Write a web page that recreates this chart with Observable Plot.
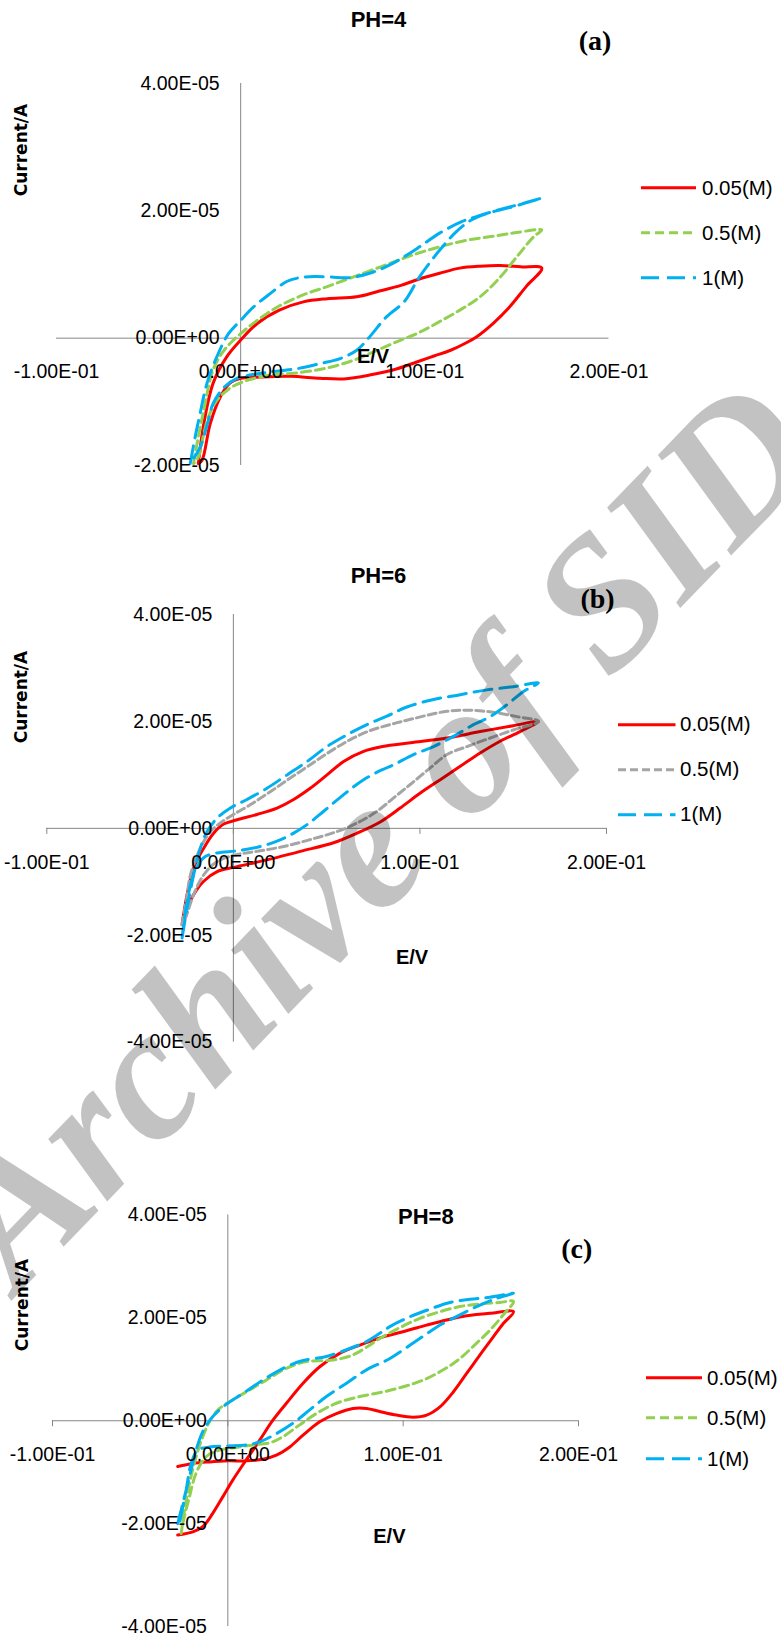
<!DOCTYPE html>
<html><head><meta charset="utf-8">
<script src="https://cdn.jsdelivr.net/npm/d3@7"></script>
<script src="https://cdn.jsdelivr.net/npm/@observablehq/plot@0.6"></script>
<style>
html,body{margin:0;padding:0;background:#fff;}
#page{position:relative;width:781px;height:1639px;overflow:hidden;background:#fff;}
.panel{position:absolute;left:0;}
.lbl{position:absolute;transform:translate(-50%,-50%);white-space:nowrap;line-height:1;color:#000;}
.title{font:bold 22px "Liberation Sans",Arial,sans-serif;}
.letter{font:bold 28px "Liberation Serif","Times New Roman",serif;}
.axt{font:bold 20px "Liberation Sans",Arial,sans-serif;}
.ylab{font:bold 17px "DejaVu Sans",Verdana,sans-serif;transform:translate(-50%,-50%) rotate(-90deg);}
.leg{position:absolute;display:flex;align-items:center;font:20.5px "Liberation Sans",Arial,sans-serif;line-height:1;transform:translateY(-50%);white-space:nowrap;}
.leg svg{display:block;overflow:visible;}
#wm{position:absolute;left:0;top:0;pointer-events:none;}
</style></head>
<body><div id="page"></div>
<script>
// ---- data (E in V, current in units of 1E-05 A) ----
const UNIT = 1e-5;
const xTicks = [-0.1, 0, 0.1, 0.2];
const yTicksA = [-2, 0, 2, 4];
const yTicksBC = [-4, -2, 0, 2, 4];
const concLabels = ["0.05(M)", "0.5(M)", "1(M)"];
const panelTitles = ["PH=4", "PH=6", "PH=8"];
const panelLetters = ["(a)", "(b)", "(c)"];
const axisTitleX = "E/V";
const axisTitleY = "Current/A";
const watermarkText = "Archive of SID";

const pH4_005 = [[-0.023,-1.97],[-0.020,-1.34],[-0.015,-0.71],[-0.0075,-0.29],[0.000,-0.03],[0.009,0.23],[0.021,0.44],[0.034,0.57],[0.047,0.62],[0.063,0.65],[0.074,0.73],[0.087,0.83],[0.097,0.93],[0.108,1.02],[0.119,1.10],[0.130,1.13],[0.141,1.14],[0.152,1.12],[0.1635,1.10],
[0.155,0.81],[0.146,0.49],[0.137,0.23],[0.128,0.02],[0.122,-0.08],[0.114,-0.19],[0.105,-0.28],[0.096,-0.37],[0.085,-0.48],[0.070,-0.58],[0.056,-0.64],[0.043,-0.63],[0.027,-0.60],[0.011,-0.61],[0.000,-0.63],[-0.006,-0.71],[-0.011,-0.92],[-0.0165,-1.34],[-0.021,-1.92],[-0.023,-1.97]];
const pH4_05 = [[-0.0256,-1.97],[-0.023,-1.55],[-0.020,-1.13],[-0.015,-0.50],[-0.009,-0.19],[0.000,0.07],[0.009,0.28],[0.020,0.49],[0.034,0.68],[0.047,0.81],[0.061,0.96],[0.076,1.12],[0.089,1.26],[0.098,1.35],[0.110,1.45],[0.123,1.54],[0.137,1.60],[0.150,1.66],[0.1635,1.70],
[0.159,1.59],[0.150,1.28],[0.141,0.96],[0.130,0.65],[0.119,0.44],[0.108,0.26],[0.097,0.09],[0.087,-0.03],[0.074,-0.19],[0.061,-0.35],[0.045,-0.48],[0.029,-0.55],[0.016,-0.58],[0.005,-0.65],[0.000,-0.70],[-0.006,-0.79],[-0.013,-0.98],[-0.0175,-1.24],[-0.020,-1.50],[-0.023,-1.87],[-0.0256,-1.97]];
const pH4_1 = [[-0.0274,-1.97],[-0.0247,-1.55],[-0.022,-1.18],[-0.0183,-0.71],[-0.0129,-0.29],[-0.0066,0.07],[0.000,0.28],[0.007,0.49],[0.016,0.70],[0.025,0.89],[0.032,0.95],[0.040,0.97],[0.049,0.96],[0.059,0.95],[0.070,1.02],[0.081,1.15],[0.090,1.30],[0.0974,1.44],[0.108,1.65],[0.120,1.83],[0.128,1.91],[0.137,1.99],[0.146,2.06],[0.155,2.13],[0.1635,2.20],
[0.146,2.05],[0.134,1.96],[0.1255,1.86],[0.117,1.67],[0.108,1.38],[0.097,0.96],[0.089,0.58],[0.079,0.33],[0.070,0.02],[0.063,-0.19],[0.054,-0.32],[0.043,-0.40],[0.0305,-0.48],[0.016,-0.53],[0.005,-0.58],[-0.002,-0.63],[-0.009,-0.77],[-0.015,-1.03],[-0.018,-1.34],[-0.022,-1.71],[-0.0274,-1.97]];

const pH6_005 = [[-0.0275,-1.80],[-0.0248,-1.24],[-0.0213,-0.74],[-0.0159,-0.37],[-0.0106,-0.09],[-0.0052,0.08],[0.002,0.16],[0.0127,0.26],[0.0234,0.38],[0.0323,0.54],[0.0412,0.75],[0.0502,1.00],[0.0591,1.25],[0.0698,1.44],[0.080,1.53],[0.095,1.60],[0.1145,1.69],[0.1323,1.81],[0.150,1.92],[0.1635,2.00],
[0.1537,1.81],[0.143,1.63],[0.1323,1.41],[0.1216,1.16],[0.1109,0.91],[0.1002,0.66],[0.0894,0.38],[0.0787,0.12],[0.0663,-0.09],[0.0537,-0.27],[0.0359,-0.43],[0.018,-0.59],[0.000,-0.73],[-0.0087,-0.81],[-0.0159,-0.99],[-0.0213,-1.24],[-0.0248,-1.49],[-0.0275,-1.80]];
const pH6_05 = [[-0.0275,-1.80],[-0.025,-1.30],[-0.023,-0.87],[-0.0177,-0.37],[-0.0123,-0.06],[-0.007,0.10],[0.000,0.26],[0.009,0.44],[0.020,0.69],[0.0305,0.94],[0.0412,1.19],[0.052,1.44],[0.0627,1.66],[0.0734,1.83],[0.084,1.94],[0.095,2.04],[0.1145,2.19],[0.127,2.21],[0.1394,2.17],[0.152,2.09],[0.1635,2.00],
[0.150,1.84],[0.1377,1.69],[0.1252,1.53],[0.1145,1.38],[0.1055,1.13],[0.0948,0.82],[0.0859,0.57],[0.077,0.32],[0.0663,0.10],[0.0555,-0.06],[0.0412,-0.21],[0.0269,-0.34],[0.0127,-0.43],[0.002,-0.49],[-0.0087,-0.62],[-0.0159,-0.87],[-0.0213,-1.24],[-0.0257,-1.68],[-0.0275,-1.80]];
const pH6_1 = [[-0.0275,-2.05],[-0.0248,-1.49],[-0.0213,-0.87],[-0.0177,-0.37],[-0.0141,-0.06],[-0.0087,0.19],[-0.0016,0.38],[0.0073,0.54],[0.018,0.75],[0.0288,1.00],[0.0395,1.25],[0.0502,1.53],[0.0609,1.75],[0.0716,1.94],[0.0823,2.10],[0.093,2.27],[0.1073,2.41],[0.1216,2.50],[0.1359,2.59],[0.150,2.65],[0.1635,2.72],
[0.1555,2.56],[0.1466,2.31],[0.1377,2.09],[0.1287,1.94],[0.118,1.72],[0.1073,1.53],[0.0966,1.38],[0.0859,1.19],[0.080,1.10],[0.0698,0.91],[0.0591,0.63],[0.0484,0.32],[0.0395,0.07],[0.0323,-0.09],[0.0234,-0.24],[0.0145,-0.34],[0.002,-0.42],[-0.0087,-0.46],[-0.0159,-0.55],[-0.0213,-0.87],[-0.0248,-1.36],[-0.0275,-2.05]];

const pH8_005 = [[-0.0286,-0.89],[-0.020,-0.83],[-0.0105,-0.80],[0.000,-0.78],[0.0105,-0.78],[0.020,-0.75],[0.0277,-0.67],[0.0353,-0.51],[0.0429,-0.28],[0.0524,-0.02],[0.0619,0.14],[0.0714,0.24],[0.0791,0.24],[0.0867,0.18],[0.0962,0.11],[0.1057,0.07],[0.1134,0.11],[0.121,0.27],[0.1286,0.56],[0.1362,0.92],[0.1438,1.28],[0.1514,1.63],[0.1571,1.89],[0.1629,2.12],
[0.1495,2.09],[0.1362,2.04],[0.1248,1.96],[0.1134,1.86],[0.1019,1.75],[0.0886,1.63],[0.0753,1.47],[0.0638,1.31],[0.0524,1.05],[0.0429,0.73],[0.0334,0.34],[0.0257,0.01],[0.0181,-0.38],[0.0105,-0.76],[0.0029,-1.15],[-0.0029,-1.48],[-0.0086,-1.80],[-0.0143,-2.06],[-0.020,-2.16],[-0.0286,-2.22]];
const pH8_05 = [[-0.0266,-2.19],[-0.0247,-1.74],[-0.0219,-1.22],[-0.0181,-0.70],[-0.0143,-0.31],[-0.0105,-0.02],[-0.0057,0.21],[0.001,0.37],[0.0105,0.56],[0.0219,0.79],[0.0334,1.02],[0.0448,1.15],[0.060,1.18],[0.0714,1.28],[0.080,1.45],[0.0867,1.60],[0.0981,1.81],[0.1095,1.99],[0.121,2.12],[0.1324,2.22],[0.1438,2.27],[0.1552,2.30],[0.1629,2.32],
[0.1571,2.06],[0.1495,1.76],[0.1419,1.51],[0.1324,1.21],[0.1229,0.99],[0.1114,0.79],[0.100,0.66],[0.0886,0.56],[0.0753,0.47],[0.0619,0.34],[0.0505,0.14],[0.041,-0.08],[0.0314,-0.31],[0.0238,-0.43],[0.0143,-0.47],[0.0048,-0.52],[-0.0048,-0.57],[-0.0124,-0.70],[-0.0181,-1.02],[-0.0219,-1.48],[-0.0257,-2.00],[-0.0266,-2.19]];
const pH8_1 = [[-0.0286,-2.0],[-0.0257,-1.61],[-0.0219,-1.09],[-0.0181,-0.57],[-0.0143,-0.21],[-0.0086,0.08],[-0.0009,0.32],[0.0086,0.53],[0.020,0.79],[0.0334,1.05],[0.0429,1.17],[0.0562,1.25],[0.0677,1.38],[0.0791,1.54],[0.0867,1.70],[0.0924,1.83],[0.1038,2.02],[0.1152,2.17],[0.1267,2.30],[0.1381,2.36],[0.1495,2.40],[0.1629,2.48],
[0.1533,2.38],[0.1438,2.25],[0.1324,2.06],[0.121,1.86],[0.1152,1.73],[0.1048,1.49],[0.092,1.20],[0.0791,0.99],[0.0677,0.73],[0.0562,0.47],[0.0467,0.21],[0.0371,-0.05],[0.0277,-0.25],[0.0181,-0.41],[0.0105,-0.47],[-0.0009,-0.49],[-0.0105,-0.51],[-0.0171,-0.57],[-0.0209,-0.83],[-0.0238,-1.35],[-0.0276,-2.0]];

// ---- styles ----
const AXIS = "#868686";
const RED = {color: "#ff0000", dash: null};
const GREEN = {color: "#92d050", dash: "9,5"};
const GRAY = {color: "#a5a5a5", dash: "8,4"};
const BLUE = {color: "#00b0f0", dash: "18,8"};

function fmt(v) {
  if (v === 0) return "0.00E+00";
  const e = Math.floor(Math.log10(Math.abs(v)) + 1e-9);
  const m = v / Math.pow(10, e);
  const s = e < 0 ? "-" : "+";
  return m.toFixed(2) + "E" + s + String(Math.abs(e)).padStart(2, "0");
}

const panels = [
  {top: 0, height: 500, mt: 83, mb: 35, ml: 56, mr: 172.5, yDomain: [-2, 4], yTicks: yTicksA, ticks: false,
   series: [{data: pH4_005, ...RED}, {data: pH4_05, ...GREEN}, {data: pH4_1, ...BLUE}],
   title: [378.5, 20], letter: [595, 41], ex: [373, 356], cy: [21, 150],
   leg: {x1: 641, x2: 696, tx: 702, rows: [188, 233, 278]}},
  {top: 540, height: 520, mt: 74, mb: 18.3, ml: 46.3, mr: 175, yDomain: [-4, 4], yTicks: yTicksBC, ticks: true,
   series: [{data: pH6_005, ...RED}, {data: pH6_05, ...GRAY}, {data: pH6_1, ...BLUE}],
   title: [378.5, 576], letter: [597.6, 599], ex: [412, 957], cy: [21, 697],
   leg: {x1: 617.5, x2: 675, tx: 680, rows: [724.3, 769.3, 814.3]}},
  {top: 1100, height: 539, mt: 114.5, mb: 13, ml: 52, mr: 203, yDomain: [-4, 4], yTicks: yTicksBC, ticks: true,
   series: [{data: pH8_005, ...RED}, {data: pH8_05, ...GREEN}, {data: pH8_1, ...BLUE}],
   title: [425.8, 1217], letter: [576.7, 1248.5], ex: [389.4, 1536], cy: [22.4, 1305],
   leg: {x1: 646, x2: 702, tx: 707, rows: [1377.8, 1418, 1458.5]}}
];

const page = document.getElementById("page");

function addLabel(text, cls, x, y) {
  const d = document.createElement("div");
  d.className = "lbl " + cls;
  d.textContent = text;
  d.style.left = x + "px";
  d.style.top = y + "px";
  page.appendChild(d);
}

panels.forEach((p, i) => {
  const innerH = p.height - p.mt - p.mb;
  const tickLen = 6 * (p.yDomain[1] - p.yDomain[0]) / innerH;
  const marks = [
    Plot.ruleY([0], {stroke: AXIS, strokeWidth: 1}),
    Plot.ruleX([0], {stroke: AXIS, strokeWidth: 1})
  ];
  if (p.ticks) marks.push(Plot.ruleX(xTicks, {x: d => d, y1: () => 0, y2: () => -tickLen, stroke: AXIS, strokeWidth: 1}));
  p.series.forEach(s => {
    const opts = {x: d => d[0], y: d => d[1], stroke: s.color, strokeWidth: 3, curve: "catmull-rom"};
    if (s.dash) opts.strokeDasharray = s.dash;
    marks.push(Plot.line(s.data, opts));
  });
  marks.push(Plot.text(xTicks, {x: d => d, y: () => 0, dy: 34, text: d => fmt(d), fontSize: 19.5, textAnchor: "middle", fill: "#000"}));
  marks.push(Plot.text(p.yTicks, {x: () => 0, y: d => d, dx: -21, text: d => fmt(d * UNIT), fontSize: 19.5, textAnchor: "end", fill: "#000"}));
  const chart = Plot.plot({
    width: 781, height: p.height,
    marginTop: p.mt, marginBottom: p.mb, marginLeft: p.ml, marginRight: p.mr,
    x: {domain: [-0.1, 0.2], axis: null},
    y: {domain: p.yDomain, axis: null},
    style: {fontFamily: '"Liberation Sans", Arial, sans-serif', background: "transparent", overflow: "visible"},
    marks
  });
  chart.classList.add("panel");
  chart.style.top = p.top + "px";
  page.appendChild(chart);

  addLabel(panelTitles[i], "title", p.title[0], p.title[1]);
  addLabel(panelLetters[i], "letter", p.letter[0], p.letter[1]);
  addLabel(axisTitleX, "axt", p.ex[0], p.ex[1]);
  addLabel(axisTitleY, "ylab", p.cy[0], p.cy[1]);

  p.series.forEach((s, k) => {
    const row = document.createElement("div");
    row.className = "leg";
    row.style.left = p.leg.x1 + "px";
    row.style.top = p.leg.rows[k] + "px";
    const w = p.leg.x2 - p.leg.x1;
    const sv = d3.create("svg").attr("width", w).attr("height", 6);
    sv.append("line").attr("x1", 0).attr("x2", w).attr("y1", 3).attr("y2", 3)
      .attr("stroke", s.color).attr("stroke-width", 3).attr("stroke-dasharray", s.dash || null);
    row.appendChild(sv.node());
    const t = document.createElement("span");
    t.textContent = concLabels[k];
    t.style.marginLeft = (p.leg.tx - p.leg.x2) + "px";
    row.appendChild(t);
    page.appendChild(row);
  });
});

// watermark overlay
const wm = d3.create("svg").attr("id", "wm").attr("width", 781).attr("height", 1639);
wm.append("text")
  .attr("transform", "translate(18,1294) rotate(-46)")
  .attr("font-family", "Liberation Serif, Times New Roman, serif")
  .attr("font-weight", "bold").attr("font-style", "italic")
  .attr("font-size", 187)
  .attr("textLength", 1163).attr("lengthAdjust", "spacingAndGlyphs")
  .attr("fill", "rgba(0,0,0,0.24)")
  .text(watermarkText);
page.appendChild(wm.node());
</script></body></html>
